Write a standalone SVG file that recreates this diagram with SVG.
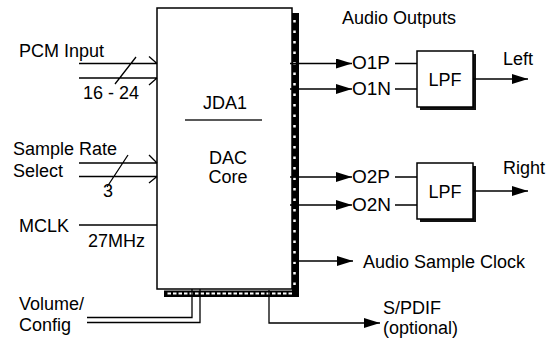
<svg xmlns="http://www.w3.org/2000/svg" width="550" height="343" viewBox="0 0 550 343">
<defs>
<style>
text{font-family:"Liberation Sans",Arial,sans-serif;font-size:18px;fill:#000}
.ln{fill:none;stroke:#000;stroke-width:1.3}
.arr{fill:none;stroke:#000;stroke-width:1.3;marker-end:url(#ah)}
.box{fill:#fff;stroke:#000;stroke-width:1.5}
.sh{fill:#111}
.o{font-size:19px}
</style>
<marker id="ah" markerUnits="userSpaceOnUse" markerWidth="17" markerHeight="11" refX="16" refY="5" orient="auto">
<path d="M0,0 L16,5 L0,10 z" fill="#000"/>
</marker>
</defs>
<rect width="550" height="343" fill="#fff"/>

<g id="jda1">
<rect class="box" x="157" y="8" width="135" height="281"/>
<rect x="292" y="13" width="7" height="284" fill="#000"/>
<rect x="164" y="290.5" width="135" height="6.5" fill="#000"/>
<path d="M294.5,20 V288" stroke="#fff" stroke-width="2.5" stroke-dasharray="2.5 8" fill="none"/>
<path d="M292,293.5 H167" stroke="#fff" stroke-width="2" stroke-dasharray="3.5 2" fill="none"/>
<text x="225" y="109" text-anchor="middle" font-size="22">JDA1</text>
<path d="M185,120 H262" stroke="#222" stroke-width="1.5"/>
<text x="228" y="164" text-anchor="middle">DAC</text>
<text x="228" y="183" text-anchor="middle">Core</text>
</g>

<g id="pcm-input">
<text x="19" y="57">PCM Input</text>
<text x="83" y="99">16 - 24</text>
</g>
<g id="sample-rate">
<text x="13" y="155">Sample Rate</text>
<text x="13" y="177">Select</text>
<text x="103" y="197">3</text>
</g>
<g id="mclk">
<text x="19" y="232">MCLK</text>
<text x="88" y="247">27MHz</text>
</g>
<g id="volume">
<text x="19" y="310">Volume/</text>
<text x="19" y="331">Config</text>
</g>
<g id="spdif">
<text x="383" y="314">S/PDIF</text>
<text x="383" y="334">(optional)</text>
</g>
<g id="asclk">
<text x="363" y="268">Audio Sample Clock</text>
</g>
<g id="audio-outputs">
<text x="342" y="24" font-size="20">Audio Outputs</text>
</g>
<g id="o1p"><text class="o" x="352" y="69">O1P</text></g>
<g id="o1n"><text class="o" x="352" y="95">O1N</text></g>
<g id="o2p"><text class="o" x="352" y="183">O2P</text></g>
<g id="o2n"><text class="o" x="352" y="211">O2N</text></g>
<g id="lpf1">
<rect class="sh" x="420" y="54" width="56" height="56"/>
<rect class="box" x="417" y="51" width="56" height="56"/>
<text x="445" y="86" text-anchor="middle">LPF</text>
</g>
<g id="lpf2">
<rect class="sh" x="420" y="166" width="56" height="56"/>
<rect class="box" x="417" y="163" width="56" height="56"/>
<text x="445" y="198" text-anchor="middle">LPF</text>
</g>
<g id="left"><text x="503" y="65">Left</text></g>
<g id="right"><text x="503" y="174">Right</text></g>

<g id="connectors">
<path class="ln" d="M79,63.5 H157 M79,78 H157 M149,56.5 L157,63.5 M149,85 L157,78 M115,84 L136,57"/>
<path class="ln" d="M79,163 H157 M79,176.5 H157 M149,155 L157,163 M149,183 L157,176.5 M107,187 L128,155"/>
<path class="ln" d="M79,225 H157"/>
<path class="ln" d="M87,317.5 H192 V289 M87,322.5 H200 V289"/>
<path class="arr" d="M269,290 V323 H380"/>
<path class="arr" d="M292,261 H353"/>
<path class="arr" d="M290,63.5 H352"/>
<path class="arr" d="M290,89 H352"/>
<path class="arr" d="M290,177 H352"/>
<path class="arr" d="M290,205 H352"/>
<path class="ln" d="M395,63.5 H417 M395,89 H417 M395,177 H417 M395,205 H417"/>
<path class="arr" d="M473,79 H528"/>
<path class="arr" d="M473,191 H528"/>
</g>
</svg>
